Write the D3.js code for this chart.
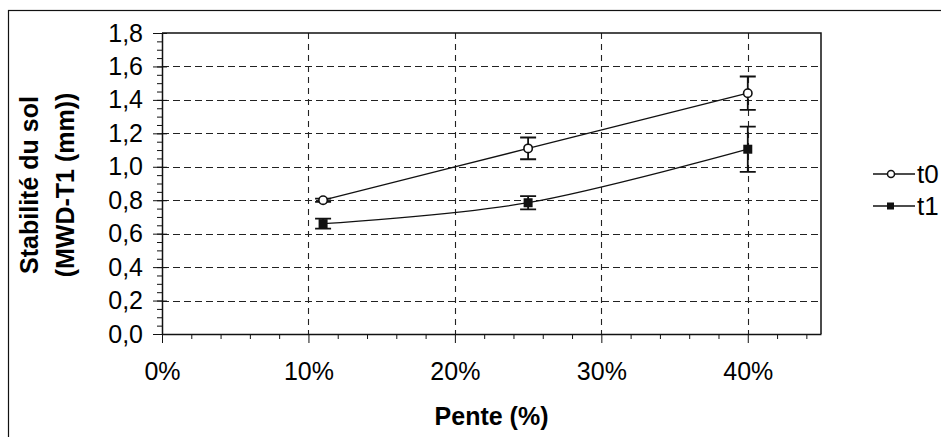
<!DOCTYPE html>
<html>
<head>
<meta charset="utf-8">
<script src="https://cdn.jsdelivr.net/npm/d3@7"></script>
<style>
  body { margin: 0; background: #fff; }
  svg { display: block; font-family: "Liberation Sans", Arial, sans-serif; }
</style>
</head>
<body>
<div id="chart"></div>
<script>
// slope (%) and soil stability (MWD-T1, mm) with error bars
var pente = [11, 25, 40];
var t0 = [0.80, 1.11, 1.44];
var t0Err = [0.01, 0.065, 0.10];
var t1 = [0.66, 0.785, 1.105];
var t1Err = [0.03, 0.04, 0.135];

var seriesNames = ["t0", "t1"];
var xTicks = [0, 10, 20, 30, 40];
var yTicks = [0, 0.2, 0.4, 0.6, 0.8, 1.0, 1.2, 1.4, 1.6, 1.8];

var W = 941, H = 437;
var plot = { left: 162, right: 821, top: 33, bottom: 334 };

var svg = d3.select("#chart").append("svg")
  .attr("width", W).attr("height", H);

svg.append("rect").attr("width", W).attr("height", H).attr("fill", "#fff");

// outer frame (right / bottom run off the page like in the scan)
svg.append("rect")
  .attr("x", 8.5).attr("y", 10.5)
  .attr("width", 1000).attr("height", 1000)
  .attr("fill", "none").attr("stroke", "#111").attr("stroke-width", 1.2);

var x = d3.scaleLinear().domain([0, 45]).range([plot.left, plot.right]);
var y = d3.scaleLinear().domain([0, 1.8]).range([plot.bottom, plot.top]);

var g = svg.append("g");

// grid
g.selectAll(".hgrid")
  .data(yTicks.filter(function (d) { return d > 0 && d < 1.8; }))
  .join("line")
  .attr("x1", plot.left).attr("x2", plot.right)
  .attr("y1", function (d) { return Math.round(y(d)) + 0.5; })
  .attr("y2", function (d) { return Math.round(y(d)) + 0.5; })
  .attr("stroke", "#222").attr("stroke-width", 1.1)
  .attr("stroke-dasharray", "7,4");

g.selectAll(".vgrid")
  .data(xTicks.filter(function (d) { return d > 0; }))
  .join("line")
  .attr("y1", plot.top).attr("y2", plot.bottom)
  .attr("x1", function (d) { return Math.round(x(d)) + 0.5; })
  .attr("x2", function (d) { return Math.round(x(d)) + 0.5; })
  .attr("stroke", "#222").attr("stroke-width", 1.1)
  .attr("stroke-dasharray", "6,5");

// plot border top/right
g.append("path")
  .attr("d", "M" + plot.left + "," + plot.top + "H" + plot.right + "V" + plot.bottom)
  .attr("fill", "none").attr("stroke", "#111").attr("stroke-width", 1.5);

// y axis
var yMinor = d3.range(0, 1.8001, 0.05);
g.append("g")
  .attr("transform", "translate(" + plot.left + ",0)")
  .call(d3.axisLeft(y).tickValues(yMinor).tickSize(5).tickSizeOuter(0).tickFormat(""))
  .call(function (a) { a.select(".domain").remove(); a.selectAll("line").attr("stroke", "#111"); });

var yAxis = g.append("g")
  .attr("transform", "translate(" + plot.left + ",0)")
  .call(d3.axisLeft(y).tickValues(yTicks).tickSize(9).tickSizeOuter(0).tickPadding(10)
    .tickFormat(function (d) { return d3.format(".1f")(d).replace(".", ","); }));
yAxis.select(".domain").attr("stroke", "#111").attr("stroke-width", 1.5);
yAxis.selectAll(".tick line").attr("x2", -9).attr("x1", 5).attr("stroke", "#111");
yAxis.selectAll(".tick text")
  .attr("fill", "#000").attr("font-size", 25)
  .attr("font-family", "Liberation Sans, Arial, sans-serif");

// x axis
var xMinor = d3.range(0, 45.001, 2).filter(function (d) { return d % 10 !== 0; });
g.append("g")
  .attr("transform", "translate(0," + plot.bottom + ")")
  .call(d3.axisBottom(x).tickValues(xMinor).tickSize(5).tickSizeOuter(0).tickFormat(""))
  .call(function (a) { a.select(".domain").remove(); a.selectAll("line").attr("stroke", "#111"); });

var xAxis = g.append("g")
  .attr("transform", "translate(0," + plot.bottom + ")")
  .call(d3.axisBottom(x).tickValues(xTicks).tickSize(9).tickSizeOuter(0).tickPadding(19)
    .tickFormat(function (d) { return d + "%"; }));
xAxis.select(".domain").attr("stroke", "#111").attr("stroke-width", 1.5);
xAxis.selectAll(".tick line").attr("stroke", "#111");
xAxis.selectAll(".tick text")
  .attr("fill", "#000").attr("font-size", 25)
  .attr("font-family", "Liberation Sans, Arial, sans-serif");

// axis titles
svg.append("text")
  .attr("x", (plot.left + plot.right) / 2).attr("y", 425)
  .attr("text-anchor", "middle").attr("font-size", 25).attr("font-weight", "bold")
  .text("Pente (%)");

var yTitle = svg.append("text")
  .attr("transform", "translate(38,185) rotate(-90)")
  .attr("text-anchor", "middle").attr("font-size", 25).attr("font-weight", "bold");
yTitle.append("tspan").attr("x", 0).attr("y", 0).text("Stabilité du sol");
yTitle.append("tspan").attr("x", 0).attr("y", 36).text("(MWD-T1 (mm))");

// series
var series = [
  { name: seriesNames[0], vals: t0, err: t0Err, marker: "circle" },
  { name: seriesNames[1], vals: t1, err: t1Err, marker: "square" }
];

var line = d3.line()
  .x(function (d) { return x(d.x); })
  .y(function (d) { return y(d.y); })
  .curve(d3.curveCardinal);

series.forEach(function (s) {
  var pts = pente.map(function (p, i) { return { x: p, y: s.vals[i], e: s.err[i] }; });

  g.append("path").datum(pts)
    .attr("d", line)
    .attr("fill", "none").attr("stroke", "#111").attr("stroke-width", 1.3);

  var eb = g.append("g");
  pts.forEach(function (d) {
    var cx = x(d.x), lo = y(d.y - d.e), hi = y(d.y + d.e);
    eb.append("path")
      .attr("d", "M" + cx + "," + lo + "V" + hi +
        "M" + (cx - 8) + "," + lo + "H" + (cx + 8) +
        "M" + (cx - 8) + "," + hi + "H" + (cx + 8))
      .attr("fill", "none").attr("stroke", "#111").attr("stroke-width", 1.8);
  });

  if (s.marker === "circle") {
    g.selectAll(null).data(pts).join("circle")
      .attr("cx", function (d) { return x(d.x); })
      .attr("cy", function (d) { return y(d.y); })
      .attr("r", 4.2)
      .attr("fill", "#fff").attr("stroke", "#111").attr("stroke-width", 1.6);
  } else {
    g.selectAll(null).data(pts).join("rect")
      .attr("x", function (d) { return x(d.x) - 4.5; })
      .attr("y", function (d) { return y(d.y) - 4.5; })
      .attr("width", 9).attr("height", 9)
      .attr("fill", "#111");
  }
});

// legend
var legend = svg.append("g");
series.forEach(function (s, i) {
  var ly = 174 + i * 32;
  var lg = legend.append("g").attr("transform", "translate(0," + ly + ")");
  lg.append("line").attr("x1", 873).attr("x2", 915).attr("y1", 0).attr("y2", 0)
    .attr("stroke", "#111").attr("stroke-width", 1.3);
  if (s.marker === "circle") {
    lg.append("circle").attr("cx", 891).attr("cy", 0).attr("r", 3.5)
      .attr("fill", "#fff").attr("stroke", "#111").attr("stroke-width", 1.5);
  } else {
    lg.append("rect").attr("x", 887).attr("y", -3.5).attr("width", 7).attr("height", 7)
      .attr("fill", "#111");
  }
  lg.append("text").attr("x", 917).attr("y", 0).attr("dy", "0.36em")
    .attr("font-size", 26).text(s.name);
});
</script>
</body>
</html>
